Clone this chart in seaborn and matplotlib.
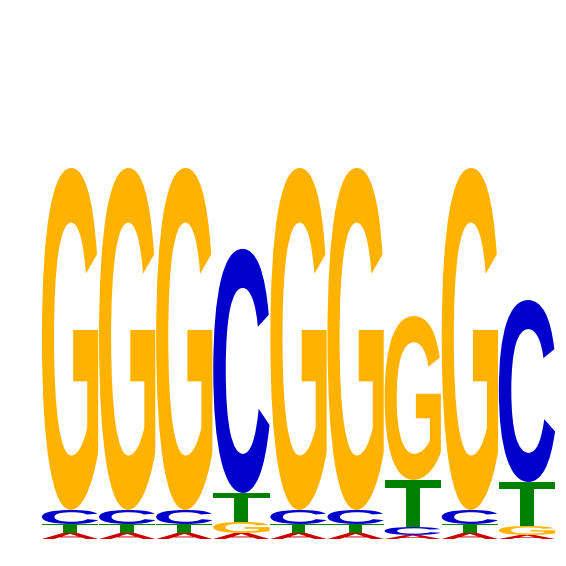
import numpy as np
import pandas as pd
import seaborn as sns
import matplotlib
matplotlib.use('Agg')
import matplotlib.pyplot as plt
from matplotlib.textpath import TextPath
from matplotlib.patches import PathPatch
from matplotlib.font_manager import FontProperties
from matplotlib.transforms import Affine2D

# letter heights (bits) per position
positions = [1, 2, 3, 4, 5, 6, 7, 8, 9]
a_heights = [0.024, 0.024, 0.024, 0.024, 0.024, 0.024, 0.016, 0.024, 0.016]
c_heights = [0.055, 0.055, 0.055, 0.959, 0.055, 0.055, 0.031, 0.055, 0.715]
g_heights = [1.344, 1.344, 1.344, 0.043, 1.344, 1.344, 0.644, 1.344, 0.035]
t_heights = [0.035, 0.035, 0.035, 0.114, 0.035, 0.035, 0.185, 0.035, 0.173]

letter_colors = {'A': '#CC0000', 'C': '#0000CC', 'G': '#FFB300', 'T': '#008000'}

fp = FontProperties(family='Liberation Sans', weight='bold')


def draw_letter(ax, ch, x, y, w, h, color):
    # glyph stretched to fill the box
    tp = TextPath((0, 0), ch, size=1, prop=fp)
    ext = tp.get_extents()
    t = Affine2D().translate(-ext.x0, -ext.y0).scale(w / ext.width, h / ext.height).translate(x - w / 2, y)
    ax.add_patch(PathPatch(t.transform_path(tp), fc=color, ec='none', lw=0))


def main():
    df = pd.DataFrame({'pos': positions, 'A': a_heights, 'C': c_heights,
                       'G': g_heights, 'T': t_heights})
    sns.set_style('white')
    fig = plt.figure(figsize=(5.66, 5.66), dpi=100)
    ax = fig.add_axes([41.5 / 566, 27 / 566, 514 / 566, 509 / 566])
    for _, row in df.iterrows():
        heights = sorted([(row[l], l) for l in 'ACGT'])
        y = 0.0
        for h, l in heights:
            draw_letter(ax, l, row['pos'], y, 0.985, h, letter_colors[l])
            y += h
    ax.set_xlim(0.5, 9.5)
    ax.set_ylim(0, 2)
    ax.axis('off')
    fig.savefig('out.png', dpi=100)


if __name__ == "__main__":
    main()
